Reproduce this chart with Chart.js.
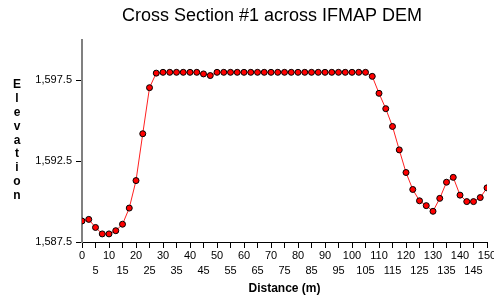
<!DOCTYPE html>
<html>
<head>
<meta charset="utf-8">
<script src="https://cdn.jsdelivr.net/npm/chart.js@4"></script>
<style>
    html, body { margin: 0; padding: 0; background: #fff; }
    #wrap { width: 494px; height: 300px; position: relative; }
</style>
</head>
<body>
<div id="wrap"><canvas id="section"></canvas></div>
<script>
const chartTitle = 'Cross Section #1 across IFMAP DEM';
const yTitle = 'Elevation';
const xTitle = 'Distance (m)';

// distance along the section (m)
const distances = [
    0, 2.5, 5, 7.5, 10, 12.5, 15, 17.5, 20, 22.5,
    25, 27.5, 30, 32.5, 35, 37.5, 40, 42.5, 45, 47.5,
    50, 52.5, 55, 57.5, 60, 62.5, 65, 67.5, 70, 72.5,
    75, 77.5, 80, 82.5, 85, 87.5, 90, 92.5, 95, 97.5,
    100, 102.5, 105, 107.5, 110, 112.5, 115, 117.5, 120, 122.5,
    125, 127.5, 130, 132.5, 135, 137.5, 140, 142.5, 145, 147.5,
    150
];

// elevation
const elevations = [
    1588.8, 1588.9, 1588.4, 1588.0, 1588.0, 1588.2, 1588.6, 1589.6, 1591.3, 1594.2,
    1597.05, 1597.95, 1598.0, 1598.0, 1598.0, 1598.0, 1598.0, 1598.0, 1597.9, 1597.8,
    1598.0, 1598.0, 1598.0, 1598.0, 1598.0, 1598.0, 1598.0, 1598.0, 1598.0, 1598.0,
    1598.0, 1598.0, 1598.0, 1598.0, 1598.0, 1598.0, 1598.0, 1598.0, 1598.0, 1598.0,
    1598.0, 1598.0, 1598.0, 1597.75, 1596.7, 1595.75, 1594.65, 1593.2, 1591.8, 1590.75,
    1590.05, 1589.75, 1589.4, 1590.2, 1591.2, 1591.5, 1590.4, 1590.0, 1590.0, 1590.25,
    1590.85
];

const yTicks = [1587.5, 1592.5, 1597.5];
const yMin = 1587.5;
const yMax = 1600;
const xMin = 0;
const xMax = 150;
const xStep = 5;

const FONT = "'Liberation Sans', Arial, sans-serif";

// title and stacked vertical axis label, drawn by hand like the original
const labelPlugin = {
    id: 'handLabels',
    afterDraw(chart) {
        const ctx = chart.ctx;
        ctx.save();
        ctx.fillStyle = '#000';
        ctx.textAlign = 'center';
        ctx.textBaseline = 'middle';
        ctx.font = '18px ' + FONT;
        ctx.fillText(chartTitle, 272, 16);

        ctx.font = 'bold 12px ' + FONT;
        const letters = yTitle.split('');
        letters.forEach((ch, i) => {
            ctx.fillText(ch, 17, 85 + i * 13.8);
        });
        ctx.restore();
    }
};

const points = distances.map((d, i) => ({ x: d, y: elevations[i] }));

new Chart(document.getElementById('section'), {
    type: 'line',
    data: {
        datasets: [{
            data: points,
            borderColor: '#ff2020',
            borderWidth: 1,
            pointBackgroundColor: '#ff0000',
            pointBorderColor: '#000',
            pointBorderWidth: 1,
            pointRadius: 3,
            tension: 0,
        }]
    },
    options: {
        responsive: true,
        maintainAspectRatio: false,
        animation: false,
        layout: { padding: { top: 40, left: 0, right: 7, bottom: 0 } },
        plugins: {
            legend: { display: false },
            title: { display: false },
            tooltip: { enabled: false }
        },
        scales: {
            x: {
                type: 'linear',
                min: xMin,
                max: xMax,
                border: { color: '#000', width: 1 },
                grid: { drawOnChartArea: false, drawTicks: true, tickLength: 6, color: '#000' },
                ticks: {
                    stepSize: xStep,
                    autoSkip: false,
                    maxRotation: 0,
                    minRotation: 0,
                    padding: 0,
                    color: '#000',
                    font: { family: FONT, size: 11, lineHeight: 15 / 11 },
                    callback: v => (v % 10 === 0 ? String(v) : ['', String(v)])
                },
                title: {
                    display: true,
                    text: xTitle,
                    color: '#000',
                    font: { family: FONT, size: 12, weight: 'bold' },
                    padding: { top: 2, bottom: 4 }
                },
                afterFit: scale => {
                    scale.height = 58;
                    scale.paddingLeft = 0;
                    scale.paddingRight = 0;
                }
            },
            y: {
                min: yMin,
                max: yMax,
                border: { color: '#808080', width: 2 },
                grid: { drawOnChartArea: false, drawTicks: true, tickLength: 6, color: '#000' },
                afterBuildTicks: scale => {
                    scale.ticks = yTicks.map(v => ({ value: v }));
                },
                ticks: {
                    padding: 4,
                    color: '#000',
                    font: { family: FONT, size: 11 },
                    callback: v => v.toLocaleString('en-US', { minimumFractionDigits: 1 })
                },
                afterFit: scale => {
                    scale.width = 82;
                }
            }
        }
    },
    plugins: [labelPlugin]
});
</script>
</body>
</html>
